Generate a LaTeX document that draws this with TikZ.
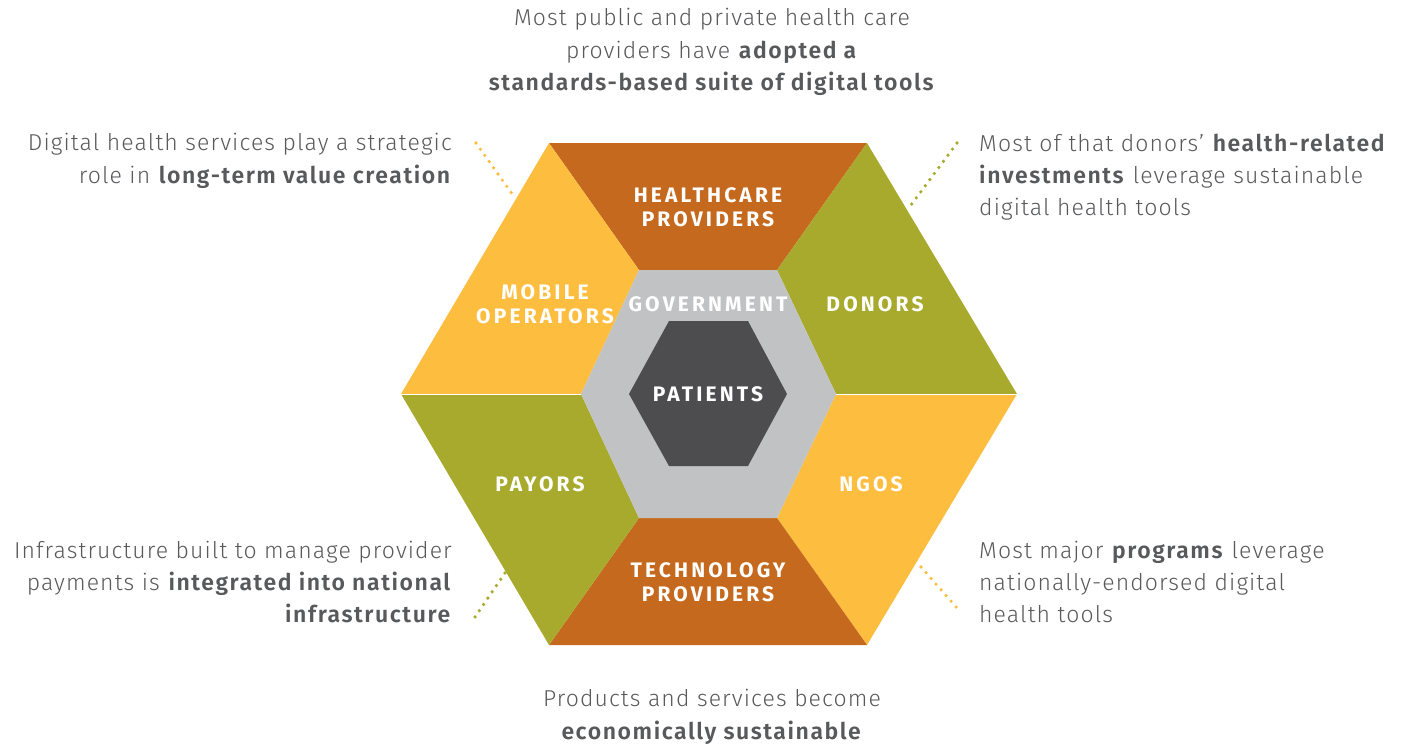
\documentclass[tikz,border=0pt]{standalone}
\usepackage{fontspec}
\setmainfont{Fira Sans Light}[BoldFont={Fira Sans SemiBold},LetterSpace=4.8,BoldFeatures={LetterSpace=6.8}]
\newfontfamily\lblfont{Fira Sans Bold}[LetterSpace=15]
\definecolor{cOrange}{HTML}{C5691F}
\definecolor{cYellow}{HTML}{FDBD3F}
\definecolor{cGreen}{HTML}{A8AA2E}
\definecolor{cGray}{HTML}{C1C2C4}
\definecolor{cDark}{HTML}{4D4D4F}
\definecolor{cText}{HTML}{58595B}
\begin{document}
\begin{tikzpicture}[x=1pt,y=-1pt,
  desc/.style={inner sep=0pt,text=cText,font=\fontsize{23}{32.3}\selectfont},
  lbl/.style={inner sep=0pt,text=white,align=center,font=\lblfont\fontsize{21}{24}\selectfont},
  dots/.style={line width=3.6pt,line cap=round,dash pattern=on 0pt off 7.6pt}]
\useasboundingbox (0,0) rectangle (1411,747);
% outer hexagon vertices
\coordinate (OTL) at (549,143);
\coordinate (OTR) at (867,143);
\coordinate (OR)  at (1017,394);
\coordinate (OBR) at (867,645);
\coordinate (OBL) at (549,645);
\coordinate (OL)  at (401,394);
% gray hexagon vertices
\coordinate (GTL) at (639,270);
\coordinate (GTR) at (777,270);
\coordinate (GR)  at (836,394);
\coordinate (GBR) at (777,518);
\coordinate (GBL) at (639,518);
\coordinate (GL)  at (581,394);
% sectors
\fill[cOrange] (OTL) -- (OTR) -- (GTR) -- (GTL) -- cycle;
\fill[cGreen]  (OTR) -- (OR) -- (GR) -- (GTR) -- cycle;
\fill[cYellow] (OR) -- (OBR) -- (GBR) -- (GR) -- cycle;
\fill[cOrange] (OBR) -- (OBL) -- (GBL) -- (GBR) -- cycle;
\fill[cGreen]  (OBL) -- (OL) -- (GL) -- (GBL) -- cycle;
\fill[cYellow] (OL) -- (OTL) -- (GTL) -- (GL) -- cycle;
\fill[cGray] (GTL) -- (GTR) -- (GR) -- (GBR) -- (GBL) -- (GL) -- cycle;
\draw[white,line width=0.8pt] (OL) -- (GL) (GR) -- (OR);
\fill[cDark] (669,321) -- (748,321) -- (787,394) -- (748,466) -- (669,466) -- (629,394) -- cycle;
% labels
\node[lbl] (hc)  at (708,207) {HEALTHCARE\\PROVIDERS};
\node[lbl] (mo)  at (545,304) {MOBILE\\OPERATORS};
\node[lbl] (gov) at (708,304) {GOVERNMENT};
\node[lbl] (don) at (875,304) {DONORS};
\node[lbl] (pat) at (708,394) {PATIENTS};
\node[lbl] (pay) at (540,484) {PAYORS};
\node[lbl] (ngo) at (871,484) {NGOS};
\node[lbl] (tec) at (708,582) {TECHNOLOGY\\PROVIDERS};
% descriptions
\node[desc,align=center] (dTop) at (712,52) {Most public and private health care\\providers have \textbf{adopted a}\\\textbf{standards-based suite of digital tools}};
\node[desc,align=right,anchor=east] (dTL) at (452,161) {Digital health services play a strategic\\role in \textbf{long-term value creation}};
\node[desc,align=left,anchor=west] (dTR) at (979,177) {Most of that donors’ \textbf{health-related}\\\textbf{investments} leverage sustainable\\digital health tools};
\node[desc,align=right,anchor=east] (dBL) at (452,582) {Infrastructure built to manage provider\\payments is \textbf{integrated into national}\\\textbf{infrastructure}};
\node[desc,align=left,anchor=west] (dBR) at (979,582) {Most major \textbf{programs} leverage\\nationally-endorsed digital\\health tools};
\node[desc,align=center] (dBot) at (712,717) {Products and services become\\\textbf{economically sustainable}};
% dotted leaders
\coordinate (a1) at (476,143); \coordinate (a2) at (515,198);
\coordinate (b1) at (957,143); \coordinate (b2) at (911,205);
\coordinate (c1) at (505,573); \coordinate (c2) at (475,617);
\coordinate (d1) at (921,567); \coordinate (d2) at (957,608);
\draw[dots,cYellow] (a1) -- (a2);
\draw[dots,cGreen] (b1) -- (b2);
\draw[dots,cGreen] (c1) -- (c2);
\draw[dots,cYellow] (d1) -- (d2);
\end{tikzpicture}
\end{document}
